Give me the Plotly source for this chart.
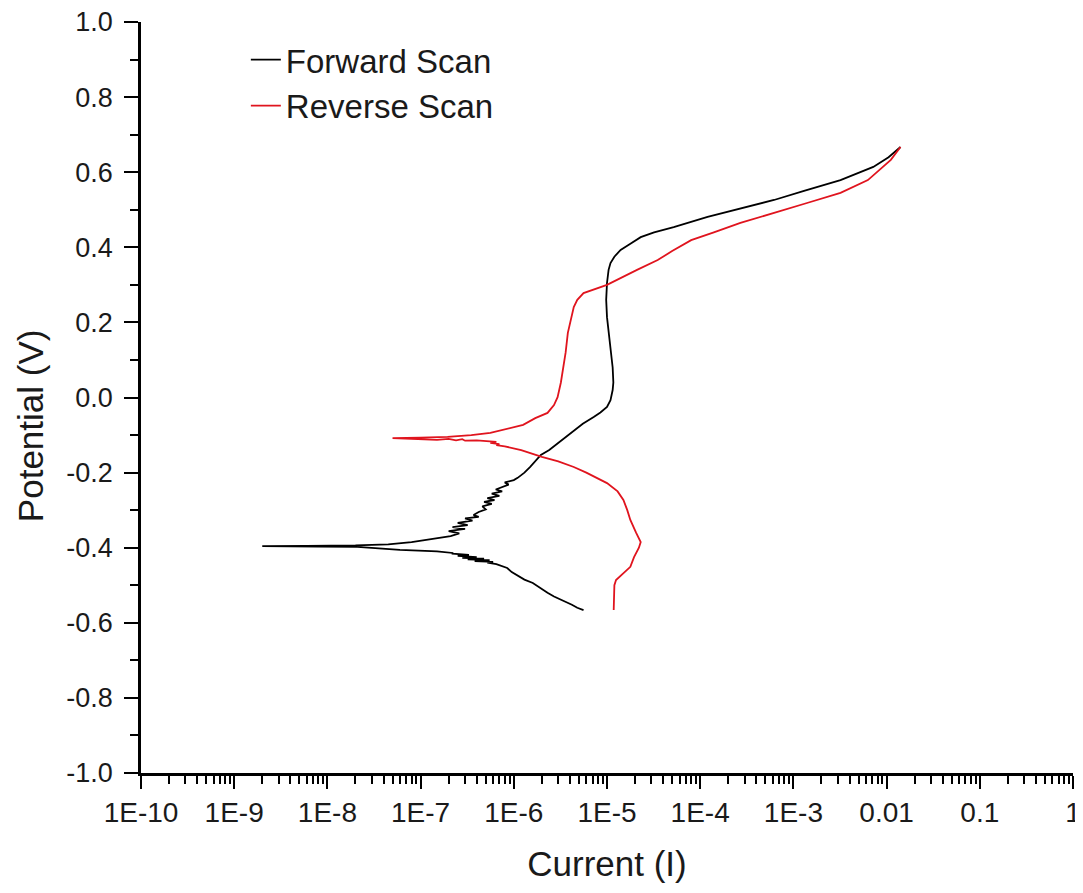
import plotly.graph_objects as go

# Forward scan (black): potential (V) and current (A)
fwd_E = [-0.566, -0.560, -0.552, -0.545, -0.539, -0.530, -0.520, -0.510, -0.500, -0.494,
         -0.485, -0.475, -0.465, -0.454, -0.448, -0.444, -0.440,
         -0.438, -0.436, -0.433, -0.431, -0.429, -0.427, -0.425, -0.422, -0.419, -0.416, -0.414,
         -0.410, -0.409, -0.406, -0.402, -0.398, -0.397, -0.396,
         -0.395, -0.394, -0.391, -0.385, -0.379, -0.372, -0.369,
         -0.362, -0.356, -0.350, -0.345, -0.340, -0.334, -0.328, -0.322, -0.318, -0.313,
         -0.305, -0.298, -0.290,
         -0.283, -0.278, -0.273, -0.268, -0.262, -0.256, -0.250, -0.245, -0.238, -0.232, -0.226, -0.220, -0.214,
         -0.200, -0.185, -0.170, -0.153, -0.140, -0.127, -0.113, -0.100, -0.086, -0.070, -0.052, -0.040,
         -0.025, -0.007, 0.020, 0.040, 0.080, 0.120, 0.180, 0.214, 0.260, 0.305, 0.340, 0.358, 0.375,
         0.393, 0.410, 0.427, 0.440, 0.454, 0.481, 0.500, 0.526, 0.550, 0.579, 0.614, 0.640, 0.667]
fwd_I = [5.6e-6, 4.8e-6, 4.2e-6, 3.6e-6, 3.2e-6, 2.7e-6, 2.3e-6, 2.0e-6, 1.75e-6, 1.6e-6,
         1.3e-6, 1.1e-6, 9.5e-7, 8.5e-7, 7.0e-7, 6.5e-7, 5.2e-7,
         6.0e-7, 3.8e-7, 5.5e-7, 3.2e-7, 4.8e-7, 2.8e-7, 4.0e-7, 2.5e-7, 3.3e-7, 2.2e-7, 2.2e-7,
         1.5e-7, 1.3e-7, 6e-8, 3.5e-8, 2.1e-8, 8e-9, 2e-9,
         6e-9, 2e-8, 4.5e-8, 8e-8, 1.2e-7, 1.7e-7, 2.1e-7,
         2.6e-7, 2.0e-7, 3.0e-7, 2.2e-7, 3.2e-7, 2.5e-7, 3.6e-7, 3.0e-7, 4.2e-7, 3.7e-7,
         4.2e-7, 5.0e-7, 4.6e-7,
         5.8e-7, 4.8e-7, 6.2e-7, 5.2e-7, 7.0e-7, 5.8e-7, 7.5e-7, 6.4e-7, 7.6e-7, 8.8e-7, 8.0e-7, 1.0e-6, 1.1e-6,
         1.3e-6, 1.5e-6, 1.7e-6, 1.95e-6, 2.4e-6, 2.8e-6, 3.3e-6, 3.9e-6, 4.5e-6, 5.5e-6, 7.2e-6, 8.5e-6,
         1.0e-5, 1.09e-5, 1.15e-5, 1.17e-5, 1.15e-5, 1.1e-5, 1.03e-5, 1.0e-5, 9.8e-6, 1.0e-5, 1.04e-5, 1.09e-5, 1.2e-5,
         1.4e-5, 1.8e-5, 2.3e-5, 3.2e-5, 5.2e-5, 1.2e-4, 2.4e-4, 6.2e-4, 1.3e-3, 3.2e-3, 7.2e-3, 1.05e-2, 1.41e-2]

# Reverse scan (red)
rev_E = [0.667, 0.633, 0.579, 0.545, 0.518, 0.490, 0.465, 0.440, 0.419, 0.390, 0.366, 0.340,
         0.321, 0.300, 0.278, 0.260, 0.241, 0.210, 0.172, 0.120, 0.081, 0.040, 0.001, -0.020,
         -0.041, -0.055, -0.073, -0.085, -0.094, -0.100, -0.105, -0.107, -0.108,
         -0.110, -0.113, -0.110, -0.114, -0.111, -0.115, -0.114, -0.116, -0.118,
         -0.121, -0.124, -0.127, -0.130, -0.140, -0.150, -0.158, -0.170, -0.185, -0.200,
         -0.228, -0.250, -0.273, -0.300, -0.326, -0.360, -0.385, -0.400, -0.425, -0.451,
         -0.470, -0.486, -0.500, -0.530, -0.566]
rev_I = [1.41e-2, 1.11e-2, 6.3e-3, 3.2e-3, 1.4e-3, 6.0e-4, 2.7e-4, 1.4e-4, 8e-5, 5.0e-5, 3.5e-5, 2.1e-5,
         1.5e-5, 1.0e-5, 5.6e-6, 4.8e-6, 4.4e-6, 4.1e-6, 3.8e-6, 3.6e-6, 3.4e-6, 3.2e-6, 2.95e-6, 2.7e-6,
         2.3e-6, 1.7e-6, 1.26e-6, 8e-7, 5.6e-7, 3.5e-7, 1.95e-7, 1.0e-7, 5e-8,
         8e-8, 1.5e-7, 2e-7, 2.4e-7, 2.8e-7, 3.0e-7, 4e-7, 5.6e-7, 6.5e-7,
         5.6e-7, 7e-7, 6.5e-7, 8e-7, 1.2e-6, 1.6e-6, 2.0e-6, 3.0e-6, 4.4e-6, 6.0e-6,
         1.0e-5, 1.3e-5, 1.5e-5, 1.65e-5, 1.78e-5, 2.05e-5, 2.3e-5, 2.2e-5, 1.95e-5, 1.78e-5,
         1.45e-5, 1.25e-5, 1.2e-5, 1.2e-5, 1.18e-5]

x_tickvals = [1e-10, 1e-9, 1e-8, 1e-7, 1e-6, 1e-5, 1e-4, 1e-3, 1e-2, 1e-1, 1]
x_ticktext = ["1E-10", "1E-9", "1E-8", "1E-7", "1E-6", "1E-5", "1E-4", "1E-3", "0.01", "0.1", "1"]
y_tickvals = [-1.0, -0.8, -0.6, -0.4, -0.2, 0.0, 0.2, 0.4, 0.6, 0.8, 1.0]
y_ticktext = ["-1.0", "-0.8", "-0.6", "-0.4", "-0.2", "0.0", "0.2", "0.4", "0.6", "0.8", "1.0"]

FONT = "Liberation Sans, Arial, sans-serif"
TXT = "#1a1a1a"

fig = go.Figure()
fig.add_trace(go.Scatter(x=fwd_I, y=fwd_E, mode="lines", name="Forward Scan",
                         line=dict(color="black", width=1.8)))
fig.add_trace(go.Scatter(x=rev_I, y=rev_E, mode="lines", name="Reverse Scan",
                         line=dict(color="#e0141e", width=1.8)))

# page body adds an 8px margin, so the figure is 8px smaller than the window
fig.update_layout(
    width=1075, height=885,
    margin=dict(l=133, r=10, t=14, b=120, autoexpand=False),
    paper_bgcolor="white", plot_bgcolor="white",
    font=dict(family=FONT, color=TXT),
    legend=dict(x=0.1125, y=0.987, xanchor="left", yanchor="top",
                font=dict(size=33, family=FONT, color=TXT),
                bgcolor="rgba(0,0,0,0)", borderwidth=0, tracegroupgap=0),
    showlegend=True,
    annotations=[dict(text="Potential (V)", textangle=-90, xref="paper", yref="paper",
                      x=-0.119, y=0.462, xanchor="center", yanchor="middle", showarrow=False,
                      font=dict(size=35, family=FONT, color=TXT))],
)
fig.update_xaxes(
    type="log", range=[-10, 0], automargin=False, ticklabeloverflow="allow",
    tickmode="array", tickvals=x_tickvals, ticktext=x_ticktext,
    ticks="outside", ticklen=13, tickwidth=2, tickcolor="black",
    showline=True, linewidth=2.5, linecolor="black", mirror=False,
    showgrid=False, zeroline=False,
    tickfont=dict(size=28, family=FONT, color=TXT),
    minor=dict(ticks="outside", ticklen=8, tickwidth=1.5, tickcolor="black", dtick="D1", showgrid=False),
    title=dict(text="Current (I)", font=dict(size=35, family=FONT, color=TXT), standoff=25),
)
fig.update_yaxes(
    range=[-1, 1], automargin=False, ticklabeloverflow="allow",
    tickmode="array", tickvals=y_tickvals, ticktext=y_ticktext,
    ticks="outside", ticklen=14, tickwidth=2, tickcolor="black",
    showline=True, linewidth=2.5, linecolor="black", mirror=False,
    showgrid=False, zeroline=False, ticklabelstandoff=6,
    tickfont=dict(size=27, family=FONT, color=TXT),
    minor=dict(ticks="outside", ticklen=8, tickwidth=1.5, tickcolor="black", dtick=0.1, tick0=0, showgrid=False),
)

fig.write_html("out.html")
